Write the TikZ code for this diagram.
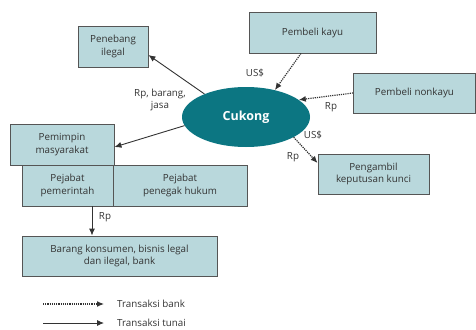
\documentclass[tikz,border=0pt]{standalone}
\usepackage{fontspec}
\setmainfont{Open Sans}
\usetikzlibrary{arrows.meta,shapes.geometric}
\definecolor{boxfill}{HTML}{B9D8DC}
\definecolor{boxline}{HTML}{555555}
\definecolor{teal}{HTML}{0C7682}
\definecolor{txt}{HTML}{333333}
\tikzset{
  box/.style={draw=boxline, line width=0.9pt, fill=boxfill, align=center, text=txt, font=\fontsize{9.8}{12.5}\selectfont, inner sep=0pt},
  lbl/.style={text=txt, font=\fontsize{9.8}{12.5}\selectfont, align=center, inner sep=0pt},
  tunai/.style={draw=txt, line width=0.9pt, -{Latex[length=7pt,width=6pt]}},
  bank/.style={draw=txt, line width=1.2pt, densely dotted, -{Latex[length=7pt,width=6pt]}},
}
\begin{document}
\begin{tikzpicture}[x=1pt,y=-1pt]
\useasboundingbox (0,0) rectangle (476,329);
\node[box, minimum width=70pt, minimum height=41pt] (pen) at (113,46.5) {Penebang\\ilegal};
\node[box, minimum width=127pt, minimum height=41pt] (pk) at (312.5,32.5) {Pembeli kayu};
\node[box, minimum width=122pt, minimum height=40pt] (pnk) at (414.5,93) {Pembeli nonkayu};
\node[box, minimum width=111pt, minimum height=40pt] (pg) at (373.5,174) {Pengambil\\keputusan kunci};
\node[box, minimum width=91pt, minimum height=41pt] (pp) at (67.5,185.5) {Pejabat\\pemerintah};
\node[box, minimum width=134pt, minimum height=41pt] (ph) at (180,185.5) {Pejabat\\penegak hukum};
\node[box, minimum width=104pt, minimum height=41pt] (pm) at (62,144.5) {Pemimpin\\masyarakat};
\node[box, minimum width=195pt, minimum height=40pt] (bar) at (119.5,256) {Barang konsumen, bisnis legal\\dan ilegal, bank};
\node[ellipse, fill=teal, minimum width=128pt, minimum height=60pt, inner sep=0pt, text=white, font=\fontsize{12.5}{14}\selectfont\bfseries] (cuk) at (246,117) {Cukong};

\draw[tunai] (cuk.151) -- ([yshift=-8.5pt]pen.east);
\draw[tunai] (cuk.188) -- ([yshift=-2.5pt]pm.east);
\draw[bank] ([xshift=-11.5pt]pk.south) -- (cuk.43);
\draw[bank] (pnk.west) -- (cuk.18);
\draw[bank] (cuk.-23) -- ([yshift=11pt]pg.west);
\draw[tunai] ([xshift=24.5pt]pp.south) -- ([xshift=-27.5pt]bar.north);

\node[lbl] (l1) at (160,100) {Rp, barang,\\jasa};
\node[lbl] (l2) at (255,73) {US\$};
\node[lbl] (l3) at (331,107) {Rp};
\node[lbl] (l4) at (313,135) {US\$};
\node[lbl] (l5) at (293,157) {Rp};
\node[lbl] (l6) at (105,217) {Rp};

\coordinate (a1) at (43,304);
\coordinate (b1) at (104,304);
\coordinate (a2) at (43,323);
\coordinate (b2) at (104,323);
\draw[bank] (a1) -- (b1);
\draw[tunai] (a2) -- (b2);
\node[lbl, anchor=west] (t1) at (117,304) {Transaksi bank};
\node[lbl, anchor=west] (t2) at (117,323) {Transaksi tunai};
\end{tikzpicture}
\end{document}
